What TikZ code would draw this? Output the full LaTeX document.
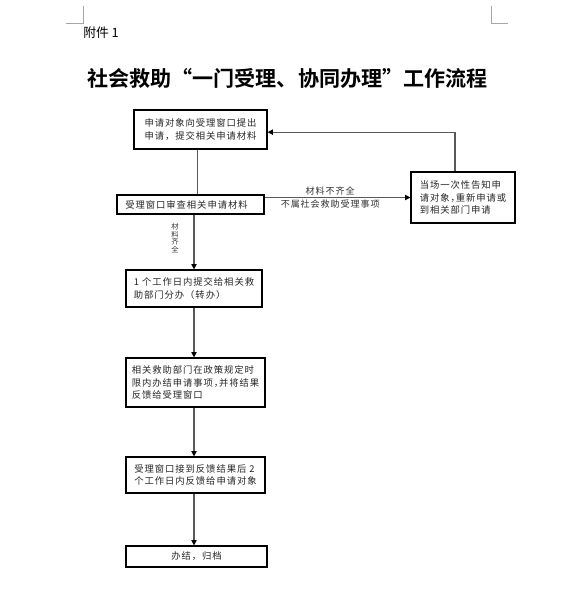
\documentclass[tikz,border=0pt]{standalone}
\usepackage{fontspec}
\setmainfont{Noto Sans CJK SC}[BoldFont={Noto Sans CJK SC Bold}]
\newfontfamily\boxfont{Noto Sans CJK SC}[LetterSpace=10]
\usetikzlibrary{arrows.meta}
\tikzset{
  stepbox/.style  = {draw, line width=0.9pt, align=left, text=black!85,
                     font=\boxfont\fontsize{7}{9.6}\selectfont, inner sep=2pt},
  flow/.style     = {line width=0.8pt, draw=black!65},
  arrow/.style    = {flow, -{Triangle[length=4pt, width=4pt, color=black]}},
  note/.style     = {font=\boxfont\fontsize{6.8}{9}\selectfont, text=black!80, inner sep=1pt},
  vnote/.style    = {font=\fontsize{5.5}{5.8}\selectfont, text=black!80, align=center, inner sep=1pt},
  cropmark/.style = {draw=black!35, line width=0.5pt},
}

\begin{document}
\begin{tikzpicture}[x=0.75pt, y=-0.75pt]
  \fill[white] (0,0) rectangle (573,600);
  \useasboundingbox (0,0) rectangle (573,600);
  % page corner marks
  \draw[cropmark] (66,23) -- (83,23) -- (83,6);
  \draw[cropmark] (491,6) -- (491,23) -- (508,23);
  % heading
  \node[anchor=west, font=\fontsize{9.6}{11}\selectfont, inner sep=0pt] (att) at (83,33) {附件 1};
  \node[font=\fontsize{15.8}{19}\selectfont\bfseries] (title) at (287.5,78)
    {社会救助“一门受理、协同办理”工作流程};
  % steps
  \node[stepbox, minimum width=99.75pt, minimum height=29.25pt] (b1) at (200.5,129.5)
    {申请对象向受理窗口提出\\申请，提交相关申请材料};
  \node[stepbox, minimum width=110.25pt, minimum height=14.25pt] (b2) at (190.5,204.5)
    {受理窗口审查相关申请材料\hspace*{6pt}};
  \node[stepbox, minimum width=78pt, minimum height=38.25pt] (side) at (463,197.5)
    {当场一次性告知申\\请对象，\kern-.45em 重新申请或\\到相关部门申请};
  \node[stepbox, minimum width=102pt, minimum height=27.75pt] (b3) at (194,288.5)
    {1 个工作日内提交给相关救\\助部门分办（转办）};
  \node[stepbox, minimum width=104.25pt, minimum height=36.75pt] (b4) at (195.5,382.5)
    {相关救助部门在政策规定时\\限内办结申请事项，\kern-.45em 并将结果\\反馈给受理窗口};
  \node[stepbox, minimum width=104.25pt, minimum height=27pt] (b5) at (195.5,475)
    {受理窗口接到反馈结果后 2\\个工作日内反馈给申请对象};
  \node[stepbox, minimum width=105.75pt, minimum height=15.75pt] (b6) at (196.5,556.5)
    {办结，归档};
  % connectors
  \draw[flow] ([xshift=-2pt]b1.south) -- ([xshift=-2pt]b1.south |- b2.north);
  \draw[arrow] (b2.south -| b3) -- (b3)
    node[midway, left=10pt, yshift=3pt, vnote] {材\\料\\齐\\全};
  \draw[arrow] (b2.east |- side) -- (side)
    node[pos=0.45, above, note] {材料不齐全}
    node[pos=0.45, below, note] {不属社会救助受理事项};
  \draw[arrow] ([xshift=-6pt]side.north) |- ([yshift=-2pt]b1.east);
  \draw[arrow] (b3) -- (b3 |- b4.north);
  \draw[arrow] (b4.south -| b3) -- (b3 |- b5.north);
  \draw[arrow] (b5.south -| b3) -- (b3 |- b6.north);
\end{tikzpicture}
\end{document}
